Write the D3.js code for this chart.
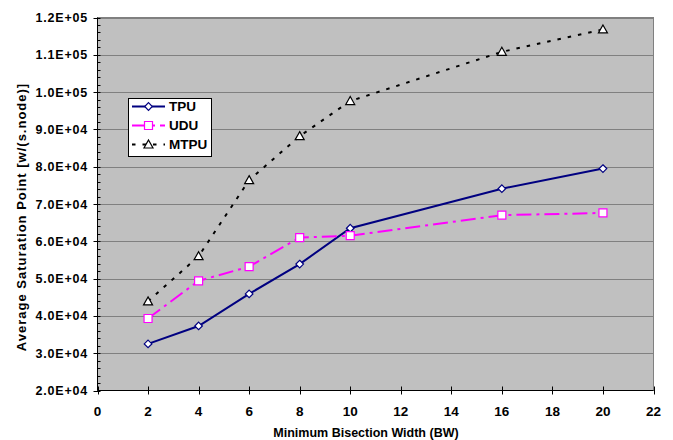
<!DOCTYPE html>
<html><head><meta charset="utf-8">
<script src="https://cdn.jsdelivr.net/npm/d3@7/dist/d3.min.js"></script>
<style>
html,body{margin:0;padding:0;background:#fff;}
svg{display:block;font-family:"Liberation Sans",Arial,sans-serif;font-weight:bold;}
</style></head>
<body>
<svg id="c" width="673" height="440"></svg>
<script>
const bw = [2, 4, 6, 8, 10, 16, 20];
const tpu = [32500, 37300, 45900, 53900, 63500, 74100, 79500];
const udu = [39300, 49400, 53200, 61000, 61500, 67000, 67600];
const mtpu = [43900, 56000, 76400, 88200, 97600, 110800, 116800];
const xTicks = [0, 2, 4, 6, 8, 10, 12, 14, 16, 18, 20, 22];
const yTicks = [20000, 30000, 40000, 50000, 60000, 70000, 80000, 90000, 100000, 110000, 120000];
const yTickLabels = ["2.0E+04","3.0E+04","4.0E+04","5.0E+04","6.0E+04","7.0E+04","8.0E+04","9.0E+04","1.0E+05","1.1E+05","1.2E+05"];
const seriesNames = ["TPU", "UDU", "MTPU"];

const svg = d3.select("#c");
const L = 97.5, R = 653.5, T = 17.5, B = 390.5;
const x = d3.scaleLinear().domain([0, 22]).range([L, R]);
const y = d3.scaleLinear().domain([20000, 120000]).range([B, T]);

// plot area
svg.append("rect").attr("x", L).attr("y", T).attr("width", R - L).attr("height", B - T)
  .attr("fill", "#c0c0c0").attr("stroke", "#808080").attr("stroke-width", 1);

// gridlines
svg.append("g").selectAll("line").data(yTicks.slice(1)).join("line")
  .attr("x1", L).attr("x2", R)
  .attr("y1", d => Math.round(y(d)) + 0.5).attr("y2", d => Math.round(y(d)) + 0.5)
  .attr("stroke", "#808080").attr("stroke-width", 1);

// y axis
const minor = d3.range(20000, 120001, 2000).filter(v => v % 10000 !== 0);
const gy = svg.append("g");
gy.append("line").attr("x1", L).attr("x2", L).attr("y1", T).attr("y2", B).attr("stroke", "#000");
gy.selectAll(".mj").data(yTicks).join("line").attr("class", "mj")
  .attr("x1", L - 4).attr("x2", L + 3)
  .attr("y1", d => Math.round(y(d)) + 0.5).attr("y2", d => Math.round(y(d)) + 0.5).attr("stroke", "#000");
gy.selectAll(".mn").data(minor).join("line").attr("class", "mn")
  .attr("x1", L).attr("x2", L + 3)
  .attr("y1", d => Math.round(y(d)) + 0.5).attr("y2", d => Math.round(y(d)) + 0.5).attr("stroke", "#000");
gy.selectAll("text").data(yTicks).join("text")
  .attr("x", 88).attr("y", d => y(d)).attr("dy", "0.36em")
  .attr("text-anchor", "end").attr("font-size", 12.5).attr("letter-spacing", 0.8)
  .text((d, i) => yTickLabels[i]);

// x axis
const gx = svg.append("g");
gx.append("line").attr("x1", L).attr("x2", R).attr("y1", B).attr("y2", B).attr("stroke", "#000");
gx.selectAll("line.t").data(xTicks).join("line").attr("class", "t")
  .attr("x1", d => Math.round(x(d)) + 0.5).attr("x2", d => Math.round(x(d)) + 0.5)
  .attr("y1", B - 4).attr("y2", B + 4).attr("stroke", "#000");
gx.selectAll("text").data(xTicks).join("text")
  .attr("x", d => x(d)).attr("y", 415.5)
  .attr("text-anchor", "middle").attr("font-size", 13.5)
  .text(d => d);

// axis titles
svg.append("text").attr("x", 366).attr("y", 437).attr("text-anchor", "middle")
  .attr("font-size", 12.5).text("Minimum Bisection Width (BW)");
svg.append("text").attr("transform", "translate(26,217) rotate(-90)").attr("text-anchor", "middle")
  .attr("font-size", 13).attr("letter-spacing", 1).text("Average Saturation Point [w/(s.node)]");

// symbols
const diamond = { draw(c, s) { const r = 3.8; c.moveTo(0, -r); c.lineTo(r, 0); c.lineTo(0, r); c.lineTo(-r, 0); c.closePath(); } };
const square = { draw(c, s) { const r = 4; c.moveTo(-r, -r); c.lineTo(r, -r); c.lineTo(r, r); c.lineTo(-r, r); c.closePath(); } };
const tri = { draw(c, s) { c.moveTo(0, -4.5); c.lineTo(4.5, 3.5); c.lineTo(-4.5, 3.5); c.closePath(); } };

const series = [
  { name: seriesNames[0], vals: tpu, color: "#000080", dash: null, sym: diamond, sw: 2 },
  { name: seriesNames[1], vals: udu, color: "#ff00ff", dash: "15,5,3,5", sym: square, sw: 2 },
  { name: seriesNames[2], vals: mtpu, color: "#000000", dash: "3.5,7", sym: tri, sw: 2 }
];

const line = d3.line().x(d => x(d[0])).y(d => y(d[1]));
series.forEach(s => {
  const pts = bw.map((b, i) => [b, s.vals[i]]);
  svg.append("path").datum(pts).attr("d", line).attr("fill", "none")
    .attr("stroke", s.color).attr("stroke-width", s.sw).attr("stroke-dasharray", s.dash);
  svg.append("g").selectAll("path").data(pts).join("path")
    .attr("transform", d => `translate(${x(d[0])},${y(d[1])})`)
    .attr("d", d3.symbol(s.sym)())
    .attr("fill", "#fff").attr("stroke", s.color).attr("stroke-width", 1.2);
});

// legend
const lg = svg.append("g");
lg.append("rect").attr("x", 128.5).attr("y", 98.5).attr("width", 83).attr("height", 58)
  .attr("fill", "#fff").attr("stroke", "#000").attr("stroke-width", 1);
series.forEach((s, i) => {
  const yy = 106.5 + i * 19;
  lg.append("line").attr("x1", 132).attr("x2", 165).attr("y1", yy).attr("y2", yy)
    .attr("stroke", s.color).attr("stroke-width", s.sw).attr("stroke-dasharray", s.dash);
  lg.append("path").attr("transform", `translate(148.5,${yy})`).attr("d", d3.symbol(s.sym)())
    .attr("fill", "#fff").attr("stroke", s.color).attr("stroke-width", 1.2);
  lg.append("text").attr("x", 169).attr("y", yy).attr("dy", "0.36em").attr("font-size", 13.5)
    .text(s.name);
});
</script>
</body></html>
